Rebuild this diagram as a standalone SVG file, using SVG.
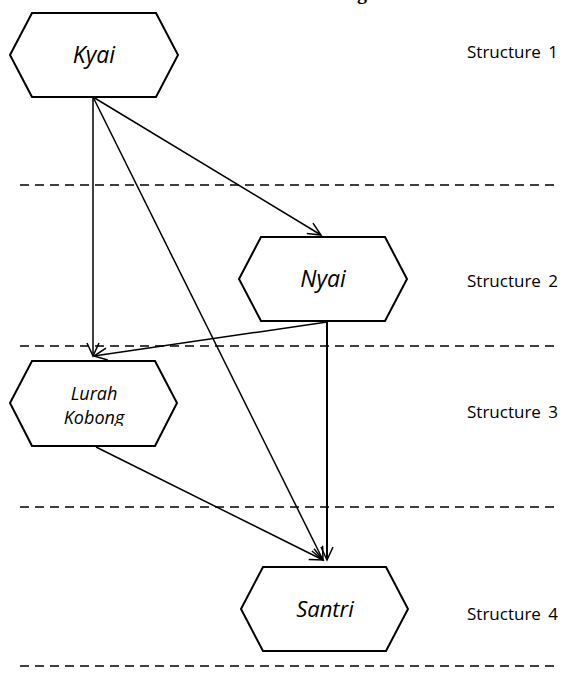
<svg xmlns="http://www.w3.org/2000/svg" width="568" height="673" viewBox="0 0 568 673">
<style>
.node{fill:#fff;stroke:#000;stroke-width:2;stroke-linejoin:miter}
.lbl{font-family:"Open Sans","DejaVu Sans",sans-serif;font-style:italic;fill:#000;text-anchor:middle}
.st{font-family:"Open Sans","DejaVu Sans",sans-serif;font-size:17px;fill:#000;word-spacing:3px}
.dash{stroke:#000;stroke-width:1.5;stroke-dasharray:9 6;fill:none}
.edge{stroke:#000;stroke-width:1.5;fill:none;marker-end:url(#arr)}
</style>
<defs>
<marker id="arr" markerUnits="userSpaceOnUse" viewBox="-15 -8 17 16" refX="0" refY="0" markerWidth="17" markerHeight="16" orient="auto">
<path d="M-13,-6 L0,0 L-13,6" fill="none" stroke="#000" stroke-width="1.5"/>
</marker>
<clipPath id="clipLK"><rect x="0" y="361" width="200" height="65"/></clipPath>
</defs>
<rect width="568" height="673" fill="#fff"/>
<text x="357" y="-1" font-family="Liberation Serif,serif" font-weight="bold" font-size="20">g</text>
<g id="dividers">
<line class="dash" x1="20" y1="185" x2="560" y2="185"/>
<line class="dash" x1="20" y1="346" x2="560" y2="346"/>
<line class="dash" x1="20" y1="507" x2="560" y2="507"/>
<line class="dash" x1="20" y1="666" x2="560" y2="666"/>
</g>
<g id="connectors">
<line class="edge" x1="93" y1="97" x2="93" y2="356"/>
<line class="edge" x1="93" y1="97" x2="321" y2="235"/>
<line class="edge" x1="93" y1="97" x2="323" y2="560"/>
<line class="edge" x1="327" y1="322" x2="94" y2="356"/>
<line class="edge" x1="327" y1="322" x2="327" y2="560" style="stroke-width:2"/>
<line class="edge" x1="96" y1="447" x2="323" y2="560"/>
</g>
<g id="kyai">
<polygon class="node" points="10,55 32,13 156,13 178,55 156,97 32,97"/>
<text class="lbl" x="94" y="63" font-size="23">Kyai</text>
</g>
<g id="nyai">
<polygon class="node" points="239,279 261,237 385,237 407,279 385,321 261,321"/>
<text class="lbl" x="323" y="287" font-size="23">Nyai</text>
</g>
<g id="lurah-kobong">
<polygon class="node" points="10,403 32,361 155,361 177,403 155,446 32,446"/>
<g clip-path="url(#clipLK)">
<text class="lbl" x="94" y="400" font-size="18">Lurah</text>
<text class="lbl" x="94" y="424" font-size="18">Kobong</text>
</g>
</g>
<g id="santri">
<polygon class="node" points="241,609 263,567 386,567 408,609 386,651 263,651"/>
<text class="lbl" x="325" y="617" font-size="22">Santri</text>
</g>
<g id="labels">
<text class="st" x="467" y="58">Structure 1</text>
<text class="st" x="467" y="287">Structure 2</text>
<text class="st" x="467" y="418">Structure 3</text>
<text class="st" x="467" y="620">Structure 4</text>
</g>
</svg>
